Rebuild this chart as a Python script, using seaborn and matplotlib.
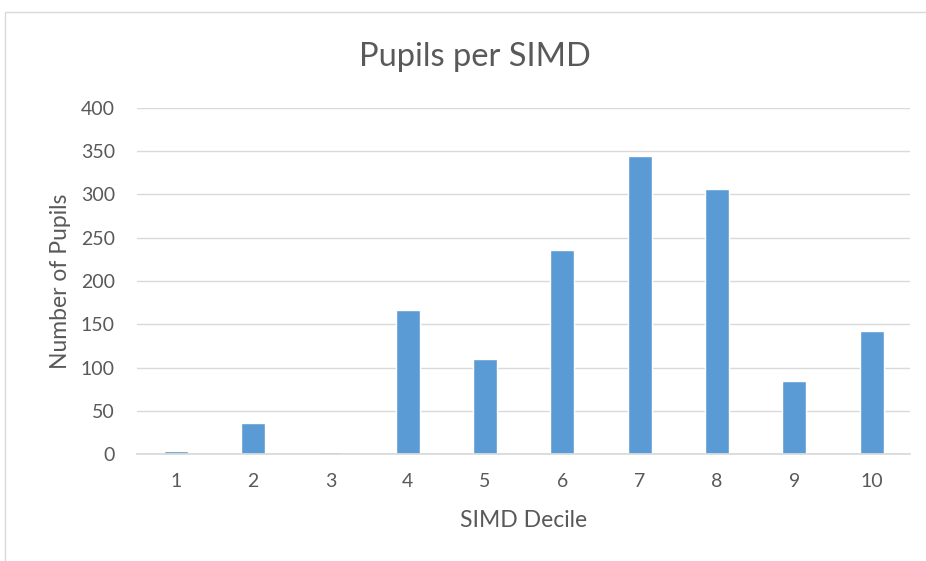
import matplotlib
matplotlib.use('Agg')
import matplotlib.pyplot as plt
import seaborn as sns
import pandas as pd
from matplotlib.patches import Rectangle

# data
deciles = ['1', '2', '3', '4', '5', '6', '7', '8', '9', '10']
pupils = [3, 36, 2, 167, 110, 236, 345, 306, 84, 142]

df = pd.DataFrame({'decile': deciles, 'pupils': pupils})

sns.set_theme(style='white')
plt.rcParams['font.family'] = ['Lato', 'DejaVu Sans']
grey = '#595959'

fig = plt.figure(figsize=(9.26, 5.61), dpi=100)
ax = fig.add_axes([0.148, 0.1907, 0.835, 0.6168])

sns.barplot(x='decile', y='pupils', data=df, color='#5B9BD5', width=0.31,
            saturation=1, ax=ax)

ax.set_ylim(0, 400)
ax.set_yticks(range(0, 401, 50))
ax.yaxis.grid(True, color='#D9D9D9', linewidth=1)
ax.set_axisbelow(True)
for s in ['top', 'right', 'left']:
    ax.spines[s].set_visible(False)
ax.spines['bottom'].set_color('#D9D9D9')
ax.tick_params(axis='y', length=0, labelsize=14, colors=grey, pad=16)
ax.tick_params(axis='x', length=0, labelsize=14, colors=grey, pad=14)
ax.set_xlabel('SIMD Decile', fontsize=16.5, color=grey)
ax.set_ylabel('Number of Pupils', fontsize=16.5, color=grey)
ax.xaxis.set_label_coords(0.5, -(510 - 454) / 346, transform=ax.transAxes)
ax.yaxis.set_label_coords(-(137 - 71) / 773, 0.5, transform=ax.transAxes)
fig.text(475 / 926, 1 - 57 / 561, 'Pupils per SIMD', fontsize=23.5, color=grey,
         ha='center', va='center')

# chart border
fig.patches.append(Rectangle((5 / 926, -0.1), 1.1, (561 - 12) / 561 + 0.1,
                             transform=fig.transFigure, fill=False,
                             edgecolor='#D9D9D9', linewidth=1))

fig.savefig('out.png', dpi=100)
